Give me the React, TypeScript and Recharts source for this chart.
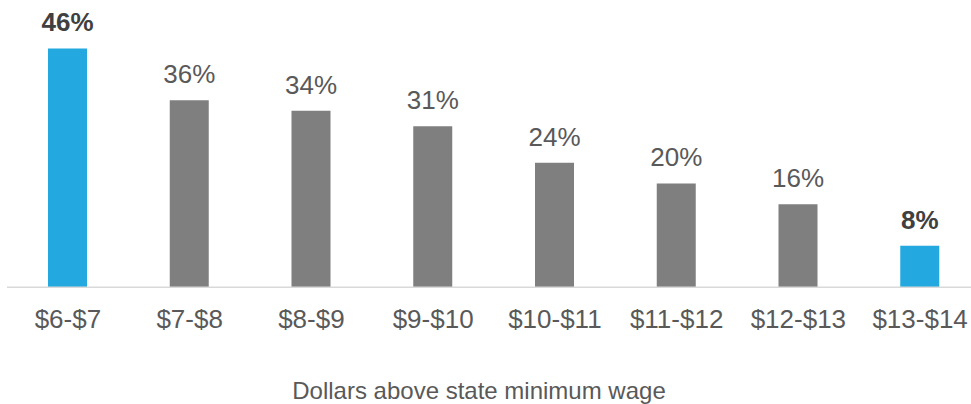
import { BarChart, Bar, XAxis, YAxis, Cell, LabelList } from 'recharts';

const categories = ['$6-$7', '$7-$8', '$8-$9', '$9-$10', '$10-$11', '$11-$12', '$12-$13', '$13-$14'];
const shares = [46, 36, 34, 31, 24, 20, 16, 8];
const highlighted = [true, false, false, false, false, false, false, true];
const axisTitle = 'Dollars above state minimum wage';

const data = categories.map((c, i) => ({ name: c, value: shares[i], hi: highlighted[i] }));

const FONT = 'Arial, "Liberation Sans", sans-serif';

// eslint-disable-next-line @typescript-eslint/no-explicit-any
function ValueLabel(props: any) {
  const { x, y, width, value, index } = props;
  const hi = highlighted[index];
  return (
    <text
      x={x + width / 2}
      y={y - 17}
      textAnchor="middle"
      fontFamily={FONT}
      fontSize={26}
      fontWeight={hi ? 'bold' : 'normal'}
      fill={hi ? '#404040' : '#595959'}
    >
      {value}%
    </text>
  );
}

// eslint-disable-next-line @typescript-eslint/no-explicit-any
function CategoryTick({ x, y, payload }: any) {
  return (
    <text x={x} y={y + 33} textAnchor="middle" fontFamily={FONT} fontSize={26} fill="#595959">
      {payload.value}
    </text>
  );
}

// eslint-disable-next-line @typescript-eslint/no-explicit-any
function AxisTitle({ viewBox }: any) {
  return (
    <text x={479} y={viewBox.y + 112} textAnchor="middle" fontFamily={FONT} fontSize={24} fill="#595959">
      {axisTitle}
    </text>
  );
}

export default function App() {
  return (
    <div style={{ position: 'absolute', left: 0, top: 0, width: 971, height: 404, overflow: 'hidden', background: '#fff' }}>
      <BarChart
        width={981}
        height={404}
        data={data}
        margin={{ top: 27.6, right: 0, left: 7, bottom: 0 }}
      >
        <YAxis hide domain={[0, 50]} />
        <XAxis
          dataKey="name"
          height={116.7}
          axisLine={{ stroke: '#d9d9d9', strokeWidth: 1.5 }}
          tickLine={false}
          tick={<CategoryTick />}
          interval={0}
          label={<AxisTitle />}
        />
        <Bar dataKey="value" barSize={39} isAnimationActive={false}>
          {data.map((d, i) => (
            <Cell key={i} fill={d.hi ? '#23a8e0' : '#7f7f7f'} />
          ))}
          <LabelList dataKey="value" content={<ValueLabel />} />
        </Bar>
      </BarChart>
    </div>
  );
}
